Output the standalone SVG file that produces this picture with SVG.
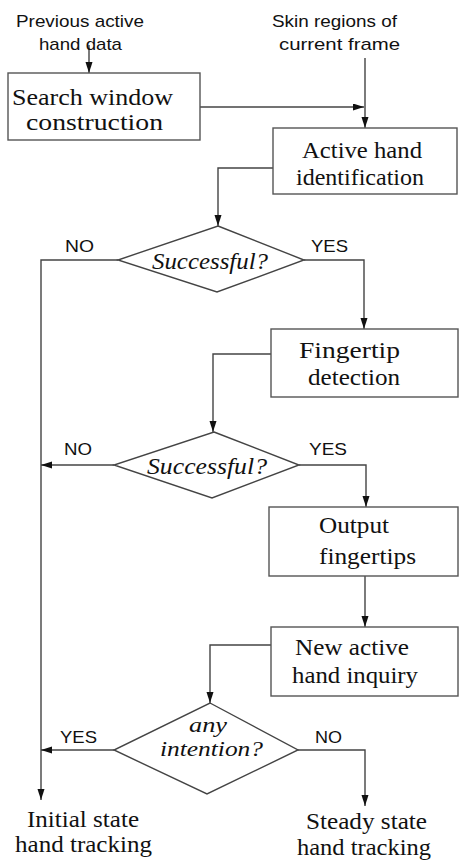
<svg xmlns="http://www.w3.org/2000/svg" width="460" height="861" viewBox="0 0 460 861">
  <style>
    .box { fill: #ffffff; stroke: #555555; stroke-width: 1.4; }
    .dia { fill: #ffffff; stroke: #444444; stroke-width: 1.4; }
    .wire { fill: none; stroke: #444444; stroke-width: 1.4; }
    text { fill: #111111; }
    .rm { font-family: "Liberation Serif", Tinos, "Times New Roman", Times, "DejaVu Serif", "Noto Serif", serif; font-size: 24px; }
    .it { font-family: "Liberation Serif", Tinos, "Times New Roman", Times, "DejaVu Serif", "Noto Serif", serif; font-size: 24px; font-style: italic; }
    .lb { font-family: "Liberation Sans", Arimo, Arial, Helvetica, sans-serif; font-size: 17px; }
  </style>
  <defs>
    <marker id="arrow" markerUnits="userSpaceOnUse" markerWidth="12" markerHeight="8" refX="11" refY="3.5" orient="auto">
      <path d="M0,0 L11,3.5 L0,7 z" fill="#111111"/>
    </marker>
  </defs>
  <rect width="460" height="861" fill="#ffffff"/>

  <!-- connectors -->
  <g id="connectors">
    <path class="wire" d="M89,45 V73" marker-end="url(#arrow)"/>
    <path class="wire" d="M365,58 V128" marker-end="url(#arrow)"/>
    <path class="wire" d="M200,107 H364" marker-end="url(#arrow)"/>
    <path class="wire" d="M273,168 H218 V226" marker-end="url(#arrow)"/>
    <path class="wire" d="M118,260 H41 V800" marker-end="url(#arrow)"/>
    <path class="wire" d="M304,260 H364 V329" marker-end="url(#arrow)"/>
    <path class="wire" d="M271,354 H213 V432" marker-end="url(#arrow)"/>
    <path class="wire" d="M114,465 H41" marker-end="url(#arrow)"/>
    <path class="wire" d="M299,465 H366 V507" marker-end="url(#arrow)"/>
    <path class="wire" d="M365,576 V627" marker-end="url(#arrow)"/>
    <path class="wire" d="M271,645 H210 V703" marker-end="url(#arrow)"/>
    <path class="wire" d="M114,750 H41" marker-end="url(#arrow)"/>
    <path class="wire" d="M298,750 H365 V806" marker-end="url(#arrow)"/>
  </g>

  <!-- inputs -->
  <g id="input-previous">
    <text class="lb" x="16" y="27" textLength="128" lengthAdjust="spacingAndGlyphs">Previous active</text>
    <text class="lb" x="39" y="50" textLength="83" lengthAdjust="spacingAndGlyphs">hand data</text>
  </g>
  <g id="input-skin">
    <text class="lb" x="272" y="27" textLength="125" lengthAdjust="spacingAndGlyphs">Skin regions of</text>
    <text class="lb" x="279" y="50" textLength="121" lengthAdjust="spacingAndGlyphs">current frame</text>
  </g>

  <!-- process boxes -->
  <g id="search-window">
    <rect class="box" x="8" y="73" width="192" height="67"/>
    <text class="rm" x="12" y="105" textLength="161" lengthAdjust="spacingAndGlyphs">Search window</text>
    <text class="rm" x="26" y="130" textLength="137" lengthAdjust="spacingAndGlyphs">construction</text>
  </g>
  <g id="active-hand">
    <rect class="box" x="273" y="128" width="184" height="66"/>
    <text class="rm" x="302" y="158" textLength="120" lengthAdjust="spacingAndGlyphs">Active hand</text>
    <text class="rm" x="296" y="185" textLength="128" lengthAdjust="spacingAndGlyphs">identification</text>
  </g>
  <g id="decision-1">
    <polygon class="dia" points="218,226 304,260 217,292 118,260"/>
    <text class="it" x="152" y="269" textLength="116" lengthAdjust="spacingAndGlyphs">Successful?</text>
    <text class="lb" x="65" y="252" textLength="29" lengthAdjust="spacingAndGlyphs">NO</text>
    <text class="lb" x="311" y="252" textLength="37" lengthAdjust="spacingAndGlyphs">YES</text>
  </g>
  <g id="fingertip-detection">
    <rect class="box" x="271" y="329" width="187" height="68"/>
    <text class="rm" x="299" y="358" textLength="101" lengthAdjust="spacingAndGlyphs">Fingertip</text>
    <text class="rm" x="308" y="385" textLength="92" lengthAdjust="spacingAndGlyphs">detection</text>
  </g>
  <g id="decision-2">
    <polygon class="dia" points="214,432 299,465 212,498 114,465"/>
    <text class="it" x="147" y="474" textLength="120" lengthAdjust="spacingAndGlyphs">Successful?</text>
    <text class="lb" x="64" y="455" textLength="28" lengthAdjust="spacingAndGlyphs">NO</text>
    <text class="lb" x="309" y="455" textLength="38" lengthAdjust="spacingAndGlyphs">YES</text>
  </g>
  <g id="output-fingertips">
    <rect class="box" x="269" y="507" width="189" height="69"/>
    <text class="rm" x="319" y="533" textLength="70" lengthAdjust="spacingAndGlyphs">Output</text>
    <text class="rm" x="319" y="564" textLength="97" lengthAdjust="spacingAndGlyphs">fingertips</text>
  </g>
  <g id="new-hand-inquiry">
    <rect class="box" x="271" y="627" width="187" height="69"/>
    <text class="rm" x="295" y="655" textLength="114" lengthAdjust="spacingAndGlyphs">New active</text>
    <text class="rm" x="292" y="683" textLength="126" lengthAdjust="spacingAndGlyphs">hand inquiry</text>
  </g>
  <g id="decision-3">
    <polygon class="dia" points="210,703 298,750 207,794 114,750"/>
    <text class="it" x="189" y="732" style="font-size:20px" textLength="38" lengthAdjust="spacingAndGlyphs">any</text>
    <text class="it" x="160" y="756" style="font-size:20px" textLength="103" lengthAdjust="spacingAndGlyphs">intention?</text>
    <text class="lb" x="60" y="743" textLength="37" lengthAdjust="spacingAndGlyphs">YES</text>
    <text class="lb" x="315" y="743" textLength="27" lengthAdjust="spacingAndGlyphs">NO</text>
  </g>

  <!-- end states -->
  <g id="initial-state">
    <text class="rm" x="27" y="827" textLength="112" lengthAdjust="spacingAndGlyphs">Initial state</text>
    <text class="rm" x="15" y="852" textLength="137" lengthAdjust="spacingAndGlyphs">hand tracking</text>
  </g>
  <g id="steady-state">
    <text class="rm" x="306" y="829" textLength="121" lengthAdjust="spacingAndGlyphs">Steady state</text>
    <text class="rm" x="297" y="855" textLength="134" lengthAdjust="spacingAndGlyphs">hand tracking</text>
  </g>
</svg>
